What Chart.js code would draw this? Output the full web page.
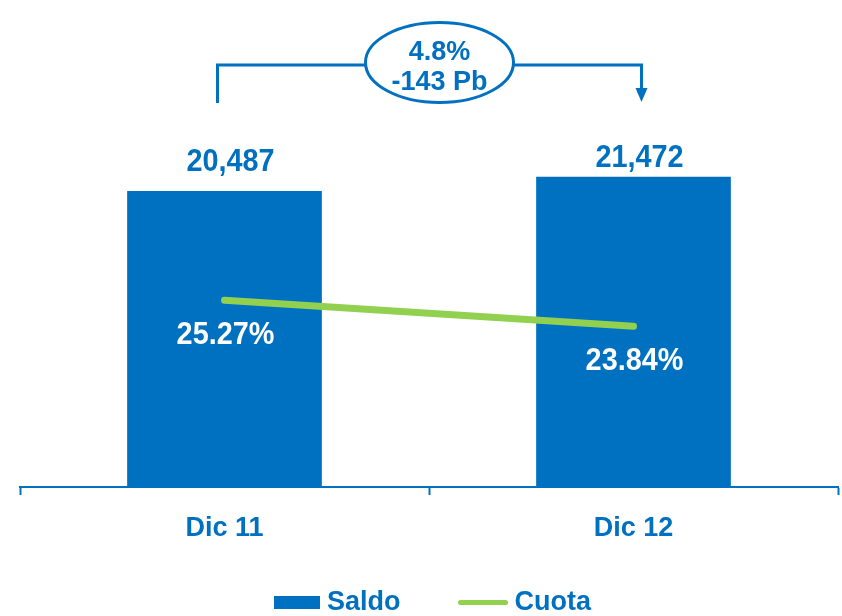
<!DOCTYPE html>
<html>
<head>
<meta charset="utf-8">
<title>Saldo y Cuota</title>
<script src="https://cdn.jsdelivr.net/npm/chart.js@4.4.1/dist/chart.umd.min.js"></script>
<style>
  html, body { margin: 0; padding: 0; background: #fff; overflow: hidden; }
  #wrap { position: relative; width: 842px; height: 616px; }
  #legend { position: absolute; left: 274px; top: 586px; height: 30px; display: flex; align-items: center;
            font: bold 27px "Liberation Sans", Arial, sans-serif; color: #0070C0; }
  #legend .item { display: flex; align-items: center; }
  #legend .item + .item { margin-left: 57px; }
  #legend .sw { margin-right: 7px; }
</style>
</head>
<body>
<div id="wrap">
  <canvas id="chart" width="842" height="616"></canvas>
  <div id="legend"></div>
</div>
<script>
const categories = ['Dic 11', 'Dic 12'];
const saldo = [20487, 21472];
const cuota = [25.27, 23.84];
const variacion = ['4.8%', '-143 Pb'];

const BLUE = '#0070C0';
const GREEN = '#92D050';
const FAMILY = '"Liberation Sans", Arial, sans-serif';

// slightly condensed text, like the rest of the deck
function squeezeText(ctx, text, x, y, sx) {
  ctx.save();
  ctx.translate(x, y);
  ctx.scale(sx, 1);
  ctx.fillText(text, 0, 0);
  ctx.restore();
}

// value labels above the bars and below the line points
const valueLabels = {
  id: 'valueLabels',
  afterDatasetsDraw(chart) {
    const ctx = chart.ctx;
    const lift = [29, 18];
    ctx.save();
    ctx.font = 'bold 31px ' + FAMILY;
    ctx.textAlign = 'center';
    ctx.textBaseline = 'middle';
    ctx.fillStyle = BLUE;
    chart.getDatasetMeta(0).data.forEach((bar, i) => {
      squeezeText(ctx, saldo[i].toLocaleString('en-US'), bar.x + 6, bar.y - lift[i], 0.93);
    });
    ctx.fillStyle = '#fff';
    chart.getDatasetMeta(1).data.forEach((pt, i) => {
      squeezeText(ctx, cuota[i].toFixed(2) + '%', pt.x + 1, pt.y + 35, 0.93);
    });
    ctx.restore();
  }
};

// bracket with the ellipse showing the change between the two years
const bracket = {
  id: 'bracket',
  afterDraw(chart) {
    const ctx = chart.ctx;
    const xs = chart.scales.x;
    const x0 = xs.getPixelForValue(0) - 7;
    const x1 = xs.getPixelForValue(1) + 8;
    const cx = (x0 + x1) / 2 + 10, cy = 62.5, rx = 74, ry = 40;
    const yLine = 65;
    ctx.save();
    ctx.strokeStyle = BLUE;
    ctx.fillStyle = BLUE;
    ctx.lineWidth = 3;
    ctx.beginPath();
    ctx.moveTo(x0, 103);
    ctx.lineTo(x0, yLine);
    ctx.lineTo(cx - rx, yLine);
    ctx.moveTo(cx + rx, yLine);
    ctx.lineTo(x1, yLine);
    ctx.lineTo(x1, 90);
    ctx.stroke();
    ctx.beginPath();
    ctx.moveTo(x1 - 6, 88);
    ctx.lineTo(x1 + 6, 88);
    ctx.lineTo(x1, 102);
    ctx.closePath();
    ctx.fill();
    ctx.beginPath();
    ctx.ellipse(cx, cy, rx, ry, 0, 0, Math.PI * 2);
    ctx.fillStyle = '#fff';
    ctx.fill();
    ctx.stroke();
    ctx.font = 'bold 27px ' + FAMILY;
    ctx.textAlign = 'center';
    ctx.textBaseline = 'middle';
    ctx.fillStyle = BLUE;
    ctx.fillText(variacion[0], cx, 53);
    ctx.fillText(variacion[1], cx, 83);
    ctx.restore();
  }
};

// html legend built from the datasets
const htmlLegend = {
  id: 'htmlLegend',
  afterUpdate(chart) {
    const box = document.getElementById('legend');
    box.innerHTML = '';
    chart.data.datasets.forEach(ds => {
      const item = document.createElement('div');
      item.className = 'item';
      const sw = document.createElement('span');
      sw.className = 'sw';
      if (ds.type === 'line') {
        sw.style.cssText = 'display:inline-block;width:50px;height:5px;border-radius:3px;margin-top:2px;background:' + ds.borderColor;
      } else {
        sw.style.cssText = 'display:inline-block;width:46px;height:13px;margin-top:3px;background:' + ds.backgroundColor;
      }
      const txt = document.createElement('span');
      txt.textContent = ds.label;
      item.appendChild(sw);
      item.appendChild(txt);
      box.appendChild(item);
    });
  }
};

new Chart(document.getElementById('chart'), {
  data: {
    labels: categories,
    datasets: [
      {
        type: 'bar',
        label: 'Saldo',
        data: saldo,
        backgroundColor: BLUE,
        yAxisID: 'y',
        categoryPercentage: 1,
        barPercentage: 0.476,
        order: 2
      },
      {
        type: 'line',
        label: 'Cuota',
        data: cuota,
        borderColor: GREEN,
        borderWidth: 7,
        borderCapStyle: 'round',
        pointRadius: 0,
        yAxisID: 'y2',
        order: 1
      }
    ]
  },
  options: {
    responsive: false,
    devicePixelRatio: 1,
    animation: false,
    layout: { padding: { top: 97, left: 20, right: 4, bottom: 0 } },
    plugins: {
      legend: { display: false },
      tooltip: { enabled: false }
    },
    scales: {
      x: {
        grid: {
          display: true,
          offset: true,
          drawOnChartArea: false,
          drawTicks: true,
          tickLength: 8,
          tickWidth: 2,
          color: BLUE
        },
        border: { display: true, color: BLUE, width: 2 },
        ticks: {
          color: BLUE,
          padding: 17,
          font: { family: FAMILY, size: 27, weight: 'bold' }
        },
        afterFit(scale) { scale.height = 129; }
      },
      y: { display: false, min: 0, max: 27000 },
      y2: { display: false, position: 'right', min: 15, max: 36.45 }
    }
  },
  plugins: [valueLabels, bracket, htmlLegend]
});
</script>
</body>
</html>
